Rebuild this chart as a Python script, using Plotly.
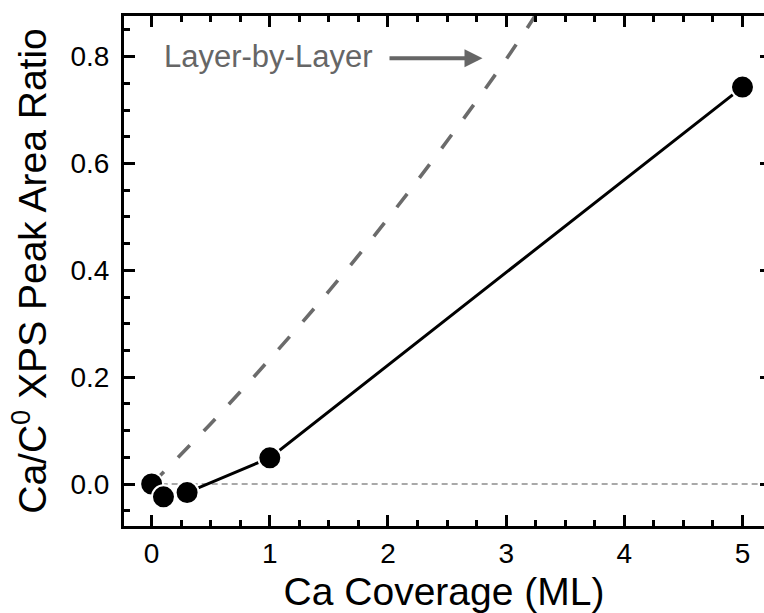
import plotly.graph_objects as go

# Measured Ca/C0 XPS peak area ratio versus Ca coverage
coverage_ml = [0.0, 0.1, 0.3, 1.0, 5.0]
peak_ratio = [0.0, -0.024, -0.016, 0.049, 0.743]

# Layer-by-layer growth model curve
model_coverage = [0.0, 0.5, 1.0, 1.5, 2.0, 2.5, 3.0, 3.3]
model_ratio = [0.0, 0.113, 0.234, 0.361, 0.497, 0.642, 0.795, 0.895]

# Zero reference line
zero_x = [0.0, 5.25]
zero_y = [0.0, 0.0]

x_ticks = [0, 1, 2, 3, 4, 5]
y_ticks = [0.0, 0.2, 0.4, 0.6, 0.8]

X_RANGE = [-0.234, 5.182]
Y_RANGE = [-0.0786, 0.876]

FONT = "Arial, Liberation Sans, sans-serif"

fig = go.Figure()

fig.add_trace(go.Scatter(
    x=zero_x, y=zero_y, mode="lines",
    line=dict(color="#a9a9a9", width=1.8, dash="6px,4px"),
    hoverinfo="skip", showlegend=False,
))

fig.add_trace(go.Scatter(
    x=model_coverage, y=model_ratio, mode="lines",
    line=dict(color="#6b6b6b", width=3.6, dash="17px,20px", shape="spline"),
    hoverinfo="skip", showlegend=False,
))

fig.add_trace(go.Scatter(
    x=coverage_ml, y=peak_ratio, mode="lines+markers",
    line=dict(color="black", width=3),
    marker=dict(color="black", size=23, line=dict(color="white", width=2)),
    showlegend=False,
))

# carrier trace for the right-hand tick axis
fig.add_trace(go.Scatter(
    x=[None], y=[None], yaxis="y2", mode="markers",
    hoverinfo="skip", showlegend=False,
))

fig.add_annotation(
    x=0.085, y=0.80, xref="x", yref="y",
    text="Layer-by-Layer", showarrow=False,
    xanchor="left", yanchor="middle",
    font=dict(family=FONT, size=31, color="#666666"),
)
fig.add_annotation(
    x=2.80, y=0.797, ax=2.0, ay=0.797,
    xref="x", yref="y", axref="x", ayref="y",
    text="", showarrow=True,
    arrowhead=2, arrowsize=0.9, arrowwidth=4, arrowcolor="#666666",
)

fig.update_layout(
    width=764, height=613,
    margin=dict(l=124, r=0, t=16, b=87),
    paper_bgcolor="white", plot_bgcolor="white",
    font=dict(family=FONT, color="black"),
    xaxis=dict(
        range=X_RANGE, tickvals=x_ticks, ticktext=[str(v) for v in x_ticks],
        ticks="inside", ticklen=11, tickwidth=3, tickcolor="black",
        minor=dict(dtick=0.25, tick0=0, ticks="inside", ticklen=6,
                   tickwidth=2.5, tickcolor="black", showgrid=False),
        showline=True, linewidth=3, linecolor="black", mirror="ticks",
        showgrid=False, zeroline=False,
        tickfont=dict(size=28, family=FONT, color="black"),
        ticklabelstandoff=0,
        title=dict(text="Ca Coverage (ML)", standoff=16,
                   font=dict(size=39, family=FONT, color="black")),
    ),
    yaxis=dict(
        range=Y_RANGE, tickvals=y_ticks, tickformat=".1f",
        ticks="inside", ticklen=11, tickwidth=3, tickcolor="black",
        minor=dict(dtick=0.05, tick0=0, ticks="inside", ticklen=6,
                   tickwidth=2.5, tickcolor="black", showgrid=False),
        showline=True, linewidth=3, linecolor="black", mirror=False,
        showgrid=False, zeroline=False,
        tickfont=dict(size=28, family=FONT, color="black"),
        ticklabelstandoff=6,
        title=dict(text="Ca/C<sup>0</sup> XPS Peak Area Ratio", standoff=12,
                   font=dict(size=39, family=FONT, color="black")),
    ),
    yaxis2=dict(
        range=Y_RANGE, overlaying="y", side="right", anchor="x",
        tickvals=y_ticks, ticks="inside", ticklen=4, tickwidth=3,
        tickcolor="black", showticklabels=False, showline=False,
        showgrid=False, zeroline=False,
    ),
)

fig.write_html("out.html")
